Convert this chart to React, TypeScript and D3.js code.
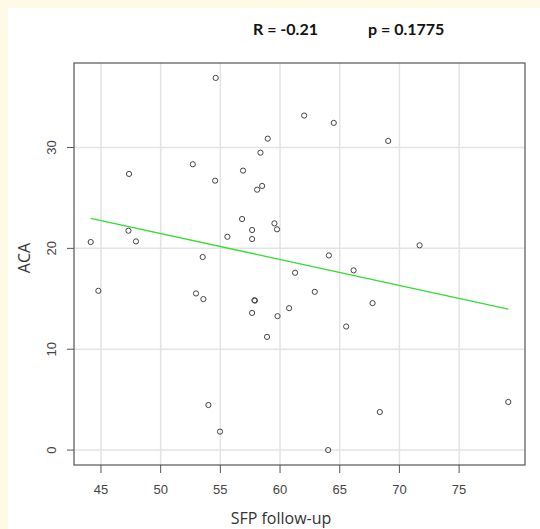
import React from "react";
import * as d3 from "d3";

// SFP follow-up vs ACA
const sfp = [
  54.61, 62.02, 58.97, 58.36, 52.69, 47.35, 56.9, 54.56, 58.5, 58.08,
  56.82, 59.53, 59.75, 57.66, 57.66, 55.59, 47.3, 47.93, 44.14, 53.52,
  64.5, 69.06, 71.69, 64.09, 44.78, 52.96, 53.58, 57.85, 57.9, 57.66,
  60.76, 59.79, 58.91, 61.26, 54.0, 54.97, 66.16, 62.91, 67.75, 65.54,
  68.36, 79.12, 64.03,
];
const aca = [
  36.9, 33.17, 30.88, 29.49, 28.34, 27.38, 27.71, 26.71, 26.19, 25.82,
  22.91, 22.48, 21.89, 21.82, 20.92, 21.15, 21.75, 20.69, 20.63, 19.14,
  32.44, 30.65, 20.3, 19.3, 15.79, 15.53, 14.97, 14.86, 14.82, 13.6,
  14.07, 13.28, 11.22, 17.58, 4.47, 1.83, 17.82, 15.69, 14.57, 12.25,
  3.77, 4.77, 0,
];

// regression line end points
const fitX = [44.14, 79.12];
const fitY = [22.98, 13.97];

const xTicks = [45, 50, 55, 60, 65, 70, 75];
const yTicks = [0, 10, 20, 30];

const statLabels = ["R = -0.21", "p = 0.1775"];

const W = 540;
const H = 529;
const plot = { left: 74, right: 525, top: 63, bottom: 465 };

export default function App() {
  const x = d3.scaleLinear().domain([42.74, 80.52]).range([plot.left, plot.right]);
  const y = d3.scaleLinear().domain([-1.48, 38.38]).range([plot.bottom, plot.top]);

  const line = d3
    .line<number>()
    .x((d) => x(d))
    .y((d, i) => y(fitY[i]));

  const tickFont = "'Liberation Sans', Arial, sans-serif";
  const titleFont = "'Open Sans', sans-serif";

  return (
    <svg
      width={W}
      height={H}
      style={{ position: "absolute", left: 0, top: 0, background: "#fff" }}
    >
      <rect x={0} y={0} width={W} height={8} fill="#fffae6" />
      <rect x={0} y={0} width={8} height={H} fill="#fffae6" />

      {/* stats header */}
      <text
        x={253}
        y={35}
        fontFamily="Lato, sans-serif"
        fontWeight="bold"
        fontSize={16}
        fill="#111"
      >
        {statLabels[0]}
      </text>
      <text
        x={368}
        y={35}
        fontFamily="Lato, sans-serif"
        fontWeight="bold"
        fontSize={16}
        fill="#111"
      >
        {statLabels[1]}
      </text>

      {/* grid */}
      <g stroke="#e3e3e3" strokeWidth={1.5}>
        {xTicks.map((t) => (
          <line key={"gx" + t} x1={x(t)} x2={x(t)} y1={plot.top} y2={plot.bottom} />
        ))}
        {yTicks.map((t) => (
          <line key={"gy" + t} x1={plot.left} x2={plot.right} y1={y(t)} y2={y(t)} />
        ))}
      </g>

      {/* fit line */}
      <path d={line(fitX) || ""} fill="none" stroke="#33dd33" strokeWidth={1.3} />

      {/* points */}
      <g fill="none" stroke="#444" strokeWidth={1}>
        {sfp.map((v, i) => (
          <circle key={i} cx={x(v)} cy={y(aca[i])} r={2.6} />
        ))}
      </g>

      {/* box */}
      <rect
        x={plot.left}
        y={plot.top}
        width={plot.right - plot.left}
        height={plot.bottom - plot.top}
        fill="none"
        stroke="#555"
        strokeWidth={1.2}
      />

      {/* x axis */}
      <g>
        {xTicks.map((t) => (
          <g key={"xt" + t}>
            <line x1={x(t)} x2={x(t)} y1={plot.bottom} y2={plot.bottom + 8} stroke="#555" />
            <text
              x={x(t)}
              y={494}
              textAnchor="middle"
              fontFamily={tickFont}
              fontSize={13}
              fill="#444"
            >
              {t}
            </text>
          </g>
        ))}
      </g>

      {/* y axis */}
      <g>
        {yTicks.map((t) => (
          <g key={"yt" + t}>
            <line x1={plot.left - 7} x2={plot.left} y1={y(t)} y2={y(t)} stroke="#555" />
            <text
              transform={`translate(${56},${y(t)}) rotate(-90)`}
              textAnchor="middle"
              fontFamily={tickFont}
              fontSize={13}
              fill="#444"
            >
              {t}
            </text>
          </g>
        ))}
      </g>

      <text
        x={281}
        y={524}
        textAnchor="middle"
        fontFamily={titleFont}
        fontSize={16}
        fill="#333"
      >
        SFP follow-up
      </text>
      <text
        transform={`translate(${30},${258}) rotate(-90)`}
        textAnchor="middle"
        fontFamily={titleFont}
        fontSize={16}
        fill="#333"
      >
        ACA
      </text>
    </svg>
  );
}
